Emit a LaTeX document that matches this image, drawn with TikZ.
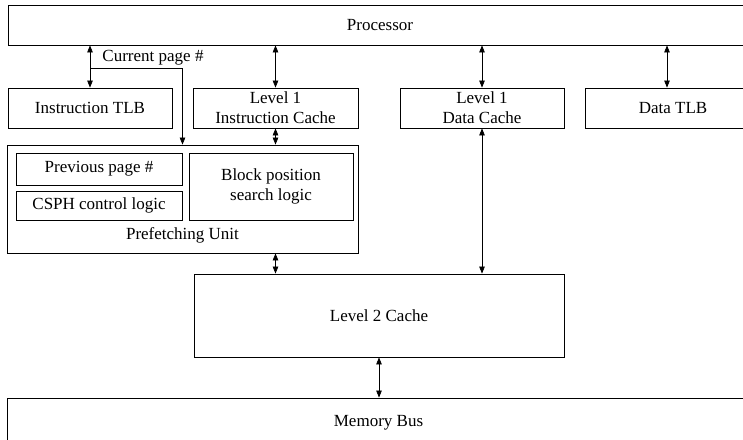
\documentclass[tikz,border=0pt]{standalone}
\usepackage{fontspec}
\setmainfont{Liberation Serif}
\usetikzlibrary{positioning, arrows.meta}

\tikzset{
  box/.style={draw, line width=0.8pt, inner sep=0pt, align=center},
  link/.style={line width=0.7pt, {Triangle[length=7pt,width=5.5pt]}-{Triangle[length=7pt,width=5.5pt]}},
  feed/.style={line width=0.7pt, -{Triangle[length=7pt,width=5.5pt]}}
}

\begin{document}
\begin{tikzpicture}[x=1pt, y=-1pt, font=\fontsize{17}{20}\selectfont]
\clip (0,0) rectangle (743,439);

% top and bottom bars
\node[box, minimum width=744, minimum height=40] (proc) at (380,25) {Processor};
\node[box, minimum width=743, minimum height=50] (mem) at (378.5,423) {Memory Bus};

% first level
\node[box, minimum width=164, minimum height=40] (itlb) at (90,108) {Instruction TLB};
\node[box, minimum width=165, minimum height=40] (icache) at (275.5,108) {Level 1\\Instruction Cache};
\node[box, minimum width=164, minimum height=40] (dcache) at (482,108) {Level 1\\Data Cache};
\node[box, minimum width=176, minimum height=40] (dtlb) at (673,108) {Data TLB};

% prefetching unit
\node[box, minimum width=351, minimum height=108] (pfu) at (182.5,199) {};
\node[box, minimum width=166, minimum height=32] (prev) at (99,169) {Previous page \#};
\node[box, minimum width=166, minimum height=29] (csph) at (99,205.5) {CSPH control logic};
\node[box, minimum width=164, minimum height=67] (bpsl) at (271,186.5) {Block position\\search logic};
\node (pfulbl) at (182.5,235) {Prefetching Unit};

\node[box, minimum width=370, minimum height=83] (l2) at (379,315.5) {Level 2 Cache};

% connections
\draw[link] (itlb.north) -- (itlb.north |- proc.south);
\draw[link] (icache.north) -- (icache.north |- proc.south);
\draw[link] (dcache.north) -- (dcache.north |- proc.south);
\draw[link] ([xshift=-6pt]dtlb.north) -- ([xshift=-6pt]dtlb.north |- proc.south);

\coordinate (cpg) at (90,68);
\node (cpglbl) at (153,58) {Current page \#};
\draw[feed] (cpg) -| (pfu.north);

\draw[link] (icache.south) -- (icache.south |- pfu.north);
\draw[link] (dcache.south) -- (dcache.south |- l2.north);
\draw[link] (icache.south |- pfu.south) -- (icache.south |- l2.north);
\draw[link] (l2.south) -- (l2.south |- mem.north);
\end{tikzpicture}
\end{document}
